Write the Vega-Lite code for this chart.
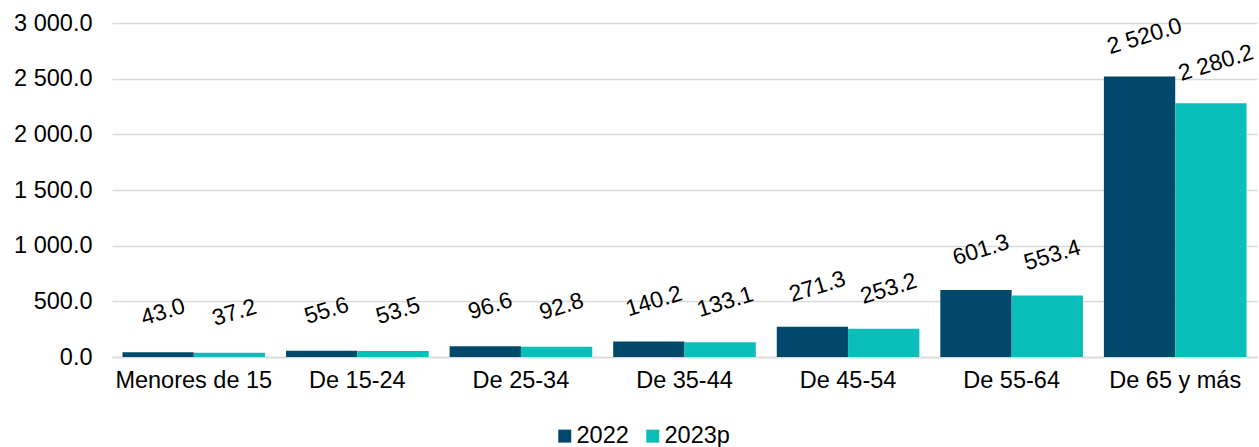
{
  "$schema": "https://vega.github.io/schema/vega-lite/v6.json",
  "width": 1145,
  "height": 334,
  "autosize": {"type": "none"},
  "padding": {"left": 112, "top": 23, "right": 2, "bottom": 90},
  "config": {
    "locale": {"number": {"decimal": ".", "thousands": " ", "grouping": [3], "currency": ["", ""]}},
    "view": {"stroke": null},
    "font": "Liberation Sans"
  },
  "data": {
    "values": [
      {"grupo": "Menores de 15", "serie": "2022", "valor": 43.0},
      {"grupo": "Menores de 15", "serie": "2023p", "valor": 37.2},
      {"grupo": "De 15-24", "serie": "2022", "valor": 55.6},
      {"grupo": "De 15-24", "serie": "2023p", "valor": 53.5},
      {"grupo": "De 25-34", "serie": "2022", "valor": 96.6},
      {"grupo": "De 25-34", "serie": "2023p", "valor": 92.8},
      {"grupo": "De 35-44", "serie": "2022", "valor": 140.2},
      {"grupo": "De 35-44", "serie": "2023p", "valor": 133.1},
      {"grupo": "De 45-54", "serie": "2022", "valor": 271.3},
      {"grupo": "De 45-54", "serie": "2023p", "valor": 253.2},
      {"grupo": "De 55-64", "serie": "2022", "valor": 601.3},
      {"grupo": "De 55-64", "serie": "2023p", "valor": 553.4},
      {"grupo": "De 65 y más", "serie": "2022", "valor": 2520.0},
      {"grupo": "De 65 y más", "serie": "2023p", "valor": 2280.2}
    ]
  },
  "encoding": {
    "x": {
      "field": "grupo", "type": "nominal", "sort": null,
      "scale": {"paddingInner": 0.128, "paddingOuter": 0.064},
      "axis": {"title": null, "labelAngle": 0, "ticks": false, "domainColor": "#D9D9D9", "domainWidth": 1.5, "labelFontSize": 23.5, "labelColor": "#000000", "labelPadding": 11, "grid": false}
    },
    "xOffset": {"field": "serie", "type": "nominal", "sort": ["2022", "2023p"]},
    "y": {
      "field": "valor", "type": "quantitative",
      "scale": {"domain": [0, 3000]},
      "axis": {"title": null, "values": [0, 500, 1000, 1500, 2000, 2500, 3000], "format": ",.1f", "domain": false, "ticks": false, "gridColor": "#D9D9D9", "gridWidth": 1.5, "labelFontSize": 23.5, "labelColor": "#000000", "labelPadding": 20}
    }
  },
  "layer": [
    {
      "mark": {"type": "bar"},
      "encoding": {
        "color": {
          "field": "serie", "type": "nominal",
          "scale": {"domain": ["2022", "2023p"], "range": ["#02486A", "#0ABFB9"]},
          "legend": {"title": null, "orient": "none", "legendX": 441, "legendY": 401, "direction": "horizontal", "symbolType": "square", "symbolSize": 169, "symbolStrokeWidth": 0, "labelFontSize": 23.5, "labelColor": "#000000", "labelOffset": 0, "columnPadding": 12}
        }
      }
    },
    {
      "mark": {"type": "text", "angle": -17, "dx": 16.5, "dy": -36.8, "fontSize": 23, "color": "#000000", "baseline": "middle", "align": "center"},
      "encoding": {"text": {"field": "valor", "type": "quantitative", "format": ",.1f"}}
    }
  ]
}
